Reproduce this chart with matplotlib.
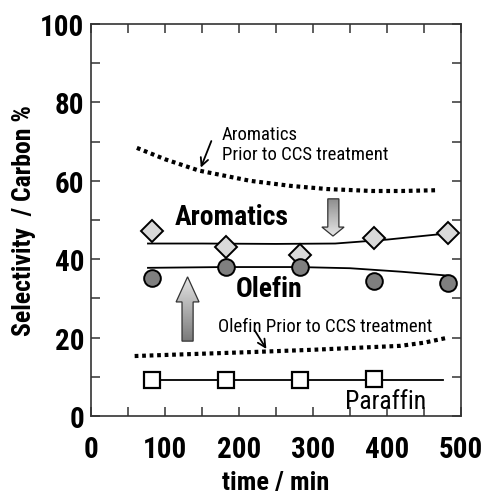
import numpy as np
import matplotlib
matplotlib.use("Agg")
import matplotlib.pyplot as plt
from matplotlib.path import Path
from matplotlib.patches import PathPatch
from matplotlib.ticker import MultipleLocator

plt.rcParams['font.family'] = ['Roboto Condensed', 'DejaVu Sans']

# ---- data ----
time_pts = [82, 182, 282, 382, 483]
aromatics = [47.2, 43.0, 41.0, 45.4, 46.7]
olefin = [35.2, 38.0, 38.0, 34.4, 33.9]
paraffin_t = [82, 182, 282, 382]
paraffin = [9.2, 9.2, 9.2, 9.5]

arom_fit_t = [77, 150, 250, 330, 400, 483]
arom_fit = [44.0, 44.0, 43.9, 44.0, 45.0, 46.6]
olef_fit_t = [77, 180, 280, 350, 420, 483]
olef_fit = [37.8, 38.0, 38.0, 37.7, 36.8, 35.8]
para_fit_t = [82, 475]
para_fit = [9.2, 9.2]

arom_prior_t = [62, 100, 146, 215, 270, 319, 380, 420, 468]
arom_prior = [68.4, 65.5, 62.6, 60.0, 58.7, 57.9, 57.4, 57.4, 57.6]
olef_prior_t = [59, 120, 215, 300, 418, 450, 480]
olef_prior = [15.3, 15.7, 16.3, 16.9, 17.9, 18.7, 19.9]

xticks = [0, 100, 200, 300, 400, 500]
yticks = [0, 20, 40, 60, 80, 100]

fig = plt.figure(figsize=(4.84, 5.02), dpi=100)
ax = fig.add_axes([0.188, 0.1693, 0.7645, 0.7809])
ax.set_xlim(0, 500)
ax.set_ylim(0, 100)

# fitted lines
ax.plot(arom_fit_t, arom_fit, color='black', lw=1.3, zorder=2)
ax.plot(olef_fit_t, olef_fit, color='black', lw=1.3, zorder=2)
ax.plot(para_fit_t, para_fit, color='black', lw=1.3, zorder=2)

# prior curves (dotted)
ax.plot(arom_prior_t, arom_prior, color='black', lw=3, linestyle=(0, (0.9, 0.9)), zorder=2)
ax.plot(olef_prior_t, olef_prior, color='black', lw=3, linestyle=(0, (0.9, 0.9)), zorder=2)

# markers
ax.plot(time_pts, aromatics, 'D', ms=11, mfc='#d9d9d9', mec='black', mew=1.4, zorder=3)
ax.plot(time_pts, olefin, 'o', ms=12, mfc='#7f7f7f', mec='black', mew=1.4, zorder=3)
ax.plot(paraffin_t, paraffin, 's', ms=12, mfc='white', mec='black', mew=1.6, zorder=3)

# gradient block arrows
def grad_arrow(ax, xs0, xs1, xh0, xh1, ybase, yhead, ytip, top_color, bottom_color):
    verts = [(xs0, ybase), (xs1, ybase), (xs1, yhead), (xh1, yhead), ((xh0 + xh1) / 2, ytip),
             (xh0, yhead), (xs0, yhead), (xs0, ybase)]
    codes = [Path.MOVETO] + [Path.LINETO] * 6 + [Path.CLOSEPOLY]
    patch = PathPatch(Path(verts, codes), facecolor='none', edgecolor='#333333', lw=0.9, zorder=5)
    ax.add_patch(patch)
    lo, hi = min(ybase, ytip), max(ybase, ytip)
    g = np.linspace(0, 1, 100).reshape(-1, 1)
    c0 = np.array(matplotlib.colors.to_rgb(bottom_color))
    c1 = np.array(matplotlib.colors.to_rgb(top_color))
    img = c0[None, None, :] * (1 - g[:, :, None]) + c1[None, None, :] * g[:, :, None]
    im = ax.imshow(img, extent=[xh0, xh1, lo, hi], origin='lower', aspect='auto', zorder=4)
    im.set_clip_path(patch)

grad_arrow(ax, 320, 335, 312, 342, 55.4, 48.2, 45.9, '#8c8c8c', '#e6e6e6')
grad_arrow(ax, 123, 138, 115, 146, 19.1, 29.1, 35.5, '#e6e6e6', '#7a7a7a')
ax.set_xlim(0, 500)
ax.set_ylim(0, 100)

# texts
ax.text(113, 50.8, 'Aromatics', fontsize=20, fontweight='bold', va='center', ha='left')
ax.text(196, 32.4, 'Olefin', fontsize=20, fontweight='bold', va='center', ha='left')
ax.text(343, 3.9, 'Paraffin', fontsize=18.5, va='center', ha='left')
ax.text(177, 69.4, 'Aromatics\nPrior to CCS treatment', fontsize=13.5, va='center', ha='left',
        linespacing=1.1)
ax.text(171, 23.0, 'Olefin Prior to CCS treatment', fontsize=13.5, va='center', ha='left')

ax.annotate('', xy=(147, 62.7), xytext=(164, 70.8),
            arrowprops=dict(arrowstyle='->', color='black', lw=1.3, mutation_scale=14))
ax.annotate('', xy=(239, 16.5), xytext=(219, 22.5),
            arrowprops=dict(arrowstyle='->', color='black', lw=1.3, mutation_scale=14))

# axes styling
for s in ax.spines.values():
    s.set_linewidth(1.2)
    s.set_color('#333333')
ax.set_xticks(xticks)
ax.set_yticks(yticks)
ax.xaxis.set_minor_locator(MultipleLocator(50))
ax.yaxis.set_minor_locator(MultipleLocator(10))
ax.tick_params(which='both', direction='in', top=True, right=True, length=6.5, width=1.1, color='#333333')
ax.tick_params(axis='x', which='major', pad=14, labelsize=21)
ax.tick_params(axis='y', which='major', pad=5, labelsize=21)
for lab in ax.get_xticklabels() + ax.get_yticklabels():
    lab.set_fontweight('bold')

ax.set_xlabel('time / min', fontsize=19, fontweight='bold', labelpad=5)
ax.set_ylabel('Selectivity  / Carbon %', fontsize=18.5, fontweight='bold', labelpad=3)

fig.savefig('out.png', dpi=100)
